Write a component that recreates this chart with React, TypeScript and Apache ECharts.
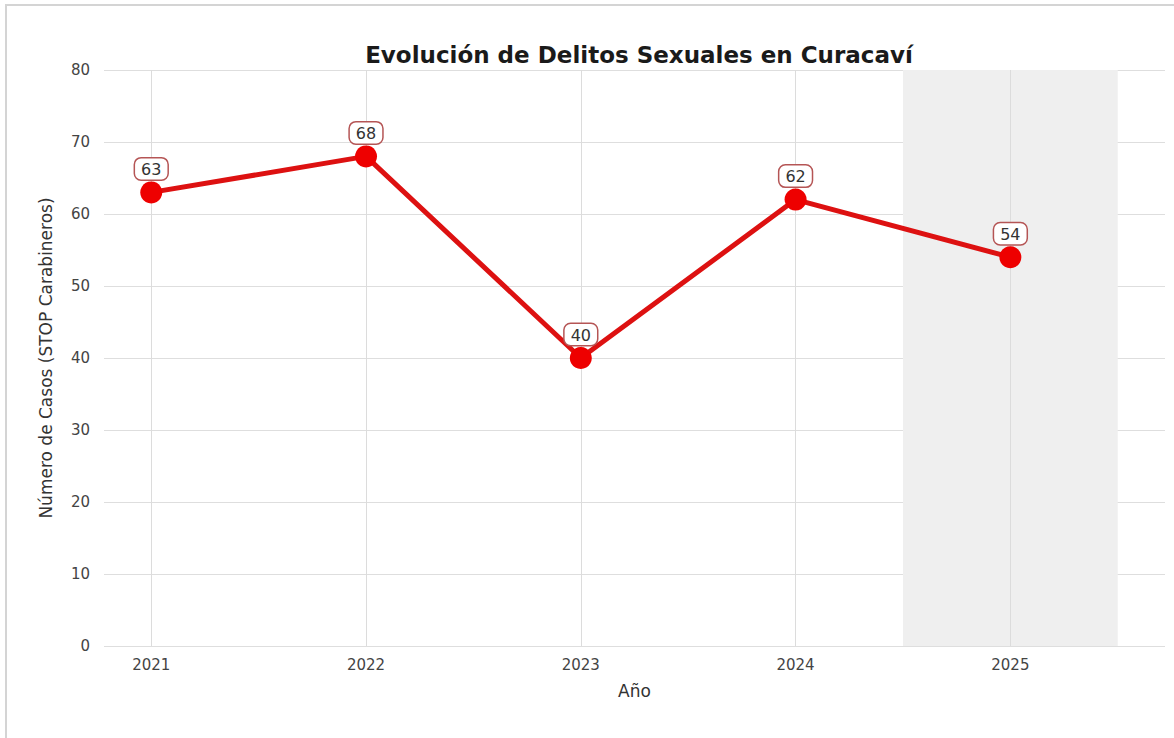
import React, { useEffect, useRef } from "react";
import * as echarts from "echarts";

const years = [2021, 2022, 2023, 2024, 2025];
const cases = [63, 68, 40, 62, 54];
const yTicks = [0, 10, 20, 30, 40, 50, 60, 70, 80];
const highlightRange = [2024.5, 2025.5];
const title = "Evolución de Delitos Sexuales en Curacaví";
const yName = "Número de Casos (STOP Carabineros)";
const xName = "Año";

const FONT = "'DejaVu Sans', sans-serif";

export default function App() {
  const ref = useRef<HTMLDivElement>(null);
  useEffect(() => {
    if (!ref.current) return;
    const chart = echarts.init(ref.current, undefined, { renderer: "svg" });
    chart.setOption({
      animation: false,
      backgroundColor: "#ffffff",
      textStyle: { fontFamily: FONT },
      title: {
        text: title,
        left: 634,
        textAlign: "center",
        top: 38,
        textStyle: { fontSize: 23, fontWeight: "bold", color: "#1a1a1a", fontFamily: FONT },
      },
      graphic: [
        {
          type: "rect",
          shape: { x: 6, y: 5, width: 1200, height: 800 },
          style: { fill: "none", stroke: "#d4d4d4", lineWidth: 2 },
          silent: true,
        },
      ],
      grid: { left: 104, right: 9, top: 70, bottom: 92 },
      xAxis: {
        type: "value",
        min: 2020.78,
        max: 2025.72,
        name: xName,
        nameLocation: "middle",
        nameGap: 36,
        nameTextStyle: { fontSize: 17, color: "#333", fontFamily: FONT },
        axisLine: { show: false },
        axisTick: { show: false },
        splitLine: { show: false },
        axisLabel: {
          customValues: years,
          formatter: (v: number) => String(v),
          fontSize: 15,
          color: "#444",
          margin: 11,
          fontFamily: FONT,
        },
      },
      yAxis: {
        type: "value",
        min: 0,
        max: 80,
        interval: 10,
        name: yName,
        nameLocation: "middle",
        nameGap: 50,
        nameTextStyle: { fontSize: 17, color: "#333", fontFamily: FONT },
        axisLine: { show: false },
        axisTick: { show: false },
        splitLine: { show: true, lineStyle: { color: "#dedede", width: 1 } },
        axisLabel: { fontSize: 15, color: "#444", margin: 14, fontFamily: FONT },
      },
      series: [
        {
          type: "line",
          data: [],
          silent: true,
          markArea: {
            silent: true,
            itemStyle: { color: "#efefef" },
            data: [[{ xAxis: highlightRange[0], yAxis: yTicks[0] }, { xAxis: highlightRange[1], yAxis: yTicks[yTicks.length - 1] }]],
          },
          z: 1,
        },
        {
          type: "line",
          data: [],
          silent: true,
          markLine: {
            silent: true,
            symbol: "none",
            label: { show: false },
            lineStyle: { color: "#dcdcdc", width: 1, type: "solid" },
            data: years.map((y) => [
              { coord: [y, yTicks[0]] },
              { coord: [y, yTicks[yTicks.length - 1]] },
            ]),
          },
          z: 2,
        },
        {
          type: "line",
          data: years.map((y, i) => [y, cases[i]]),
          symbol: "circle",
          symbolSize: 22,
          lineStyle: { color: "#dd1111", width: 5 },
          itemStyle: { color: "#ee0000" },
          z: 5,
          label: {
            show: true,
            position: "top",
            distance: 2,
            formatter: (p: any) => String(p.value[1]),
            fontSize: 16,
            color: "#333",
            fontFamily: FONT,
            backgroundColor: "#ffffff",
            borderColor: "#b55555",
            borderWidth: 1.5,
            borderRadius: 6,
            padding: [3, 6, 2, 6],
          },
        },
      ],
    });
    return () => chart.dispose();
  }, []);
  return (
    <div
      ref={ref}
      style={{ position: "fixed", left: 0, top: 0, width: 1174, height: 738 }}
    />
  );
}
